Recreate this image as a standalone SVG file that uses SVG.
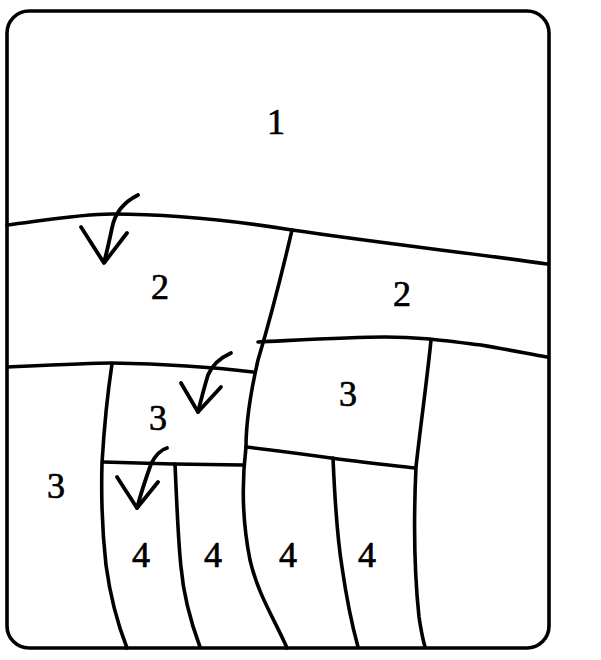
<svg xmlns="http://www.w3.org/2000/svg" width="601" height="660" viewBox="0 0 601 660">
<style>
.ln{fill:none;stroke:#000;stroke-width:3.6;stroke-linecap:round;stroke-linejoin:round}
.ar{fill:none;stroke:#000;stroke-width:3.8;stroke-linecap:round;stroke-linejoin:round}
.lb{font-family:"Liberation Serif","Times New Roman",serif;font-size:36px;fill:#000;stroke:#000;stroke-width:0.7;text-anchor:middle}
</style>
<rect width="601" height="660" fill="#fff"/>
<g id="frame">
<rect x="7" y="11" width="542" height="637" rx="22" ry="22" class="ln"/>
</g>
<g id="connectors">
<path class="ln" d="M7,225 C40,221 80,214 112,214 C170,214 230,220 292,230 C380,243 470,253 547,264"/>
<path class="ln" d="M292,230 C285,260 270,320 258,360 C250,395 246,420 246,447 C242,480 242,520 250,560 C258,595 275,620 287,648"/>
<path class="ln" d="M258,342 C300,340 350,337 385,337 C420,337 440,340 481,345 C510,350 530,354 547,357"/>
<path class="ln" d="M431,340 C427,380 420,430 416,467 C414,510 414,570 419,617 C421,630 423,640 425,647"/>
<path class="ln" d="M8,367 C50,365 90,363 112,363 C170,364 220,368 253,372"/>
<path class="ln" d="M112,364 C108,390 104,430 102,463 C101,500 102,530 106,565 C110,595 118,625 127,648"/>
<path class="ln" d="M103,462 L173,464 L243,465"/>
<path class="ln" d="M246,447 C280,451 310,455 331,458 C360,462 390,465 415,468"/>
<path class="ln" d="M175,464 C176,485 178,540 181,567 C183,590 190,620 200,647"/>
<path class="ln" d="M333,458 C334,480 336,530 342,567 C346,595 352,625 358,647"/>
</g>
<g id="arrows">
<path class="ar" d="M138,195 C124,202 115,212 112,228 C109,242 107,252 104,262"/>
<path class="ar" d="M81,227 L104,263 L127,233"/>
<path class="ar" d="M231,353 C220,358 212,365 208,375 C204,388 201,400 198,412"/>
<path class="ar" d="M181,383 L198,412 L221,387"/>
<path class="ar" d="M167,448 C160,450 155,456 151,464 C146,478 141,493 137,508"/>
<path class="ar" d="M117,477 L137,508 L158,482"/>
</g>
<g id="region-1"><text class="lb" x="276" y="134">1</text></g>
<g id="region-2a"><text class="lb" x="160" y="299">2</text></g>
<g id="region-2b"><text class="lb" x="402" y="306">2</text></g>
<g id="region-3a"><text class="lb" x="56" y="498">3</text></g>
<g id="region-3b"><text class="lb" x="158" y="430">3</text></g>
<g id="region-3c"><text class="lb" x="348" y="406">3</text></g>
<g id="region-4a"><text class="lb" x="141" y="567">4</text></g>
<g id="region-4b"><text class="lb" x="213" y="567">4</text></g>
<g id="region-4c"><text class="lb" x="288" y="567">4</text></g>
<g id="region-4d"><text class="lb" x="367" y="567">4</text></g>
</svg>
